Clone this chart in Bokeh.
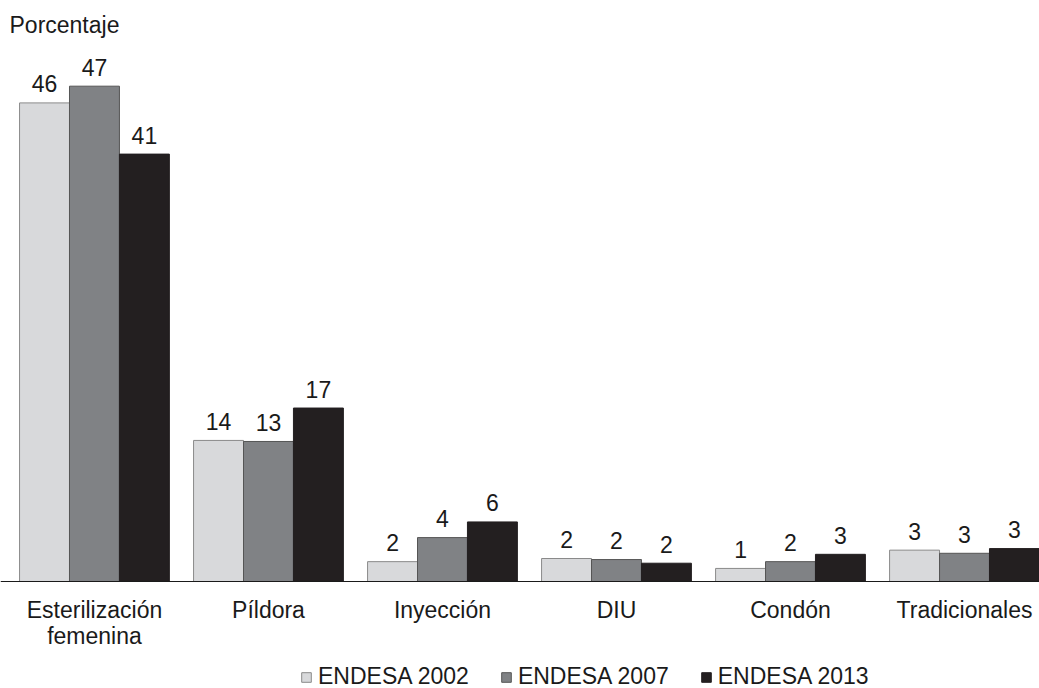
from bokeh.plotting import figure
from bokeh.models import ColumnDataSource, Range1d, Legend, LegendItem, Label, Span
from bokeh.core.properties import value
from bokeh.embed import file_html
from bokeh.resources import INLINE

categories = ["Esterilización\nfemenina", "Píldora", "Inyección", "DIU", "Condón", "Tradicionales"]
series = ["ENDESA 2002", "ENDESA 2007", "ENDESA 2013"]
v2002 = [45.8, 13.5, 1.9, 2.2, 1.25, 3.0]
v2007 = [47.4, 13.4, 4.2, 2.1, 1.9, 2.7]
v2013 = [40.9, 16.6, 5.7, 1.75, 2.6, 3.15]
lab2002 = ["46", "14", "2", "2", "1", "3"]
lab2007 = ["47", "13", "4", "2", "2", "3"]
lab2013 = ["41", "17", "6", "2", "3", "3"]

FONT = "Liberation Sans"
FS = "23px"
TXT = "#1a1a1a"
fills = ["#d8d9db", "#808285", "#231f20"]
lines = ["#8a8a8a", "#555555", "#231f20"]
bw = 0.287

p = figure(width=1039, height=688, output_backend="svg", toolbar_location=None,
           x_range=Range1d(-0.540, 5.431), y_range=Range1d(-10.24, 55.6),
           x_axis_location=None, y_axis_location=None,
           min_border_left=0, min_border_right=0, min_border_top=0, min_border_bottom=0)
p.outline_line_color = None
p.xgrid.visible = False
p.ygrid.visible = False
p.background_fill_color = "white"

idx = list(range(len(categories)))
items = []
for k, (vals, labs) in enumerate([(v2002, lab2002), (v2007, lab2007), (v2013, lab2013)]):
    xs = [i + (k - 1) * bw for i in idx]
    src = ColumnDataSource(dict(x=xs, top=vals, lab=labs))
    r = p.vbar(x="x", top="top", width=bw, source=src, fill_color=fills[k],
               line_color=lines[k], line_width=1)
    p.text(x="x", y="top", text="lab", source=src, text_align="center",
           text_baseline="alphabetic", y_offset=-19, text_font=value(FONT),
           text_font_size=FS, text_color=TXT)
    items.append(LegendItem(label=series[k], renderers=[r]))

# baseline (category axis line)
p.add_layout(Span(location=0, dimension="width", line_color=TXT, line_width=1.2))

# category labels
cat_src = ColumnDataSource(dict(x=idx, y=[0] * len(idx), t=categories))
p.text(x="x", y="y", text="t", source=cat_src, text_align="center", text_baseline="top",
       y_offset=16, text_font=value(FONT), text_font_size=FS, text_color=TXT,
       text_line_height=0.97)

legend = Legend(items=items, orientation="horizontal", location=(300, -2),
                glyph_width=12, glyph_height=12, label_standoff=6, spacing=31,
                padding=0, margin=0, border_line_color=None, background_fill_alpha=0,
                label_text_font=FONT, label_text_font_size=FS,
                label_text_color=TXT, label_height=23)
p.add_layout(legend, "center")

p.add_layout(Label(x=9, y=664, x_units="screen", y_units="screen", text="Porcentaje",
                   text_font=FONT, text_font_size=FS, text_baseline="alphabetic",
                   text_color=TXT))

open("out.html", "w").write(file_html(p, INLINE))
